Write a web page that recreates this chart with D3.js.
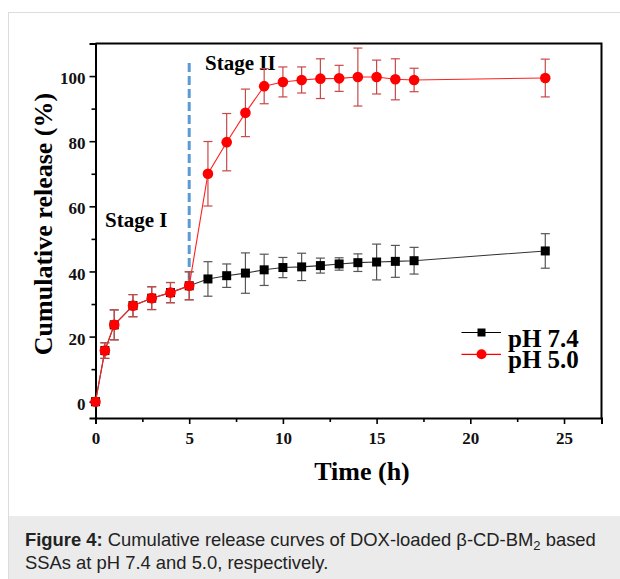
<!DOCTYPE html>
<html><head><meta charset="utf-8">
<script src="https://cdn.jsdelivr.net/npm/d3@7"></script>
<style>
html,body{margin:0;padding:0;background:#fff;}
svg{display:block;}
</style></head>
<body>
<svg id="chart" width="620" height="579"></svg>
<script>
// ---- data ----
const times = [0, 0.5, 1, 2, 3, 4, 5, 6, 7, 8, 9, 10, 11, 12, 13, 14, 15, 16, 17, 24];
const ph74 = [0, 15.7, 23.6, 29.5, 31.8, 33.5, 35.6, 37.7, 38.7, 39.5, 40.5, 41.2, 41.4, 41.8, 42.3, 42.7, 42.9, 43.1, 43.3, 46.3];
const ph74Err = [0, 2.4, 4.6, 3.4, 3.5, 3.1, 4.3, 5.3, 3.6, 6.2, 4.8, 3.1, 4.2, 2.3, 1.9, 2.7, 5.5, 4.9, 4.1, 5.3];
const ph50 = [0, 15.7, 23.6, 29.5, 31.8, 33.5, 35.6, 70.0, 79.7, 88.7, 96.9, 98.2, 98.8, 99.2, 99.3, 99.7, 99.7, 99.0, 98.8, 99.4];
const ph50Err = [0, 2.4, 4.6, 3.4, 3.5, 3.1, 4.3, 9.9, 8.8, 7.3, 5.4, 4.6, 4.0, 6.1, 4.0, 8.9, 5.2, 6.3, 3.6, 5.8];
const xTicks = [0, 5, 10, 15, 20, 25];
const yTicks = [0, 20, 40, 60, 80, 100];
const seriesNames = ["pH 7.4", "pH 5.0"];
const stageLine = {x: 5, y0: 36.5, y1: 104};

const svg = d3.select("#chart");
const serif = "'Liberation Serif','Times New Roman',serif";

// card + caption
svg.append("rect").attr("x", 8.5).attr("y", 12.5).attr("width", 620).attr("height", 580)
  .attr("fill", "#fff").attr("stroke", "#dcdcdc").attr("stroke-width", 1);
svg.append("rect").attr("x", 9).attr("y", 516).attr("width", 611).attr("height", 63).attr("fill", "#ebebeb");

const x = d3.scaleLinear().domain([0, 27]).range([95.5, 601.5]);
const y = d3.scaleLinear().domain([-5, 110]).range([418, 43.5]);

// axes
const xAxis = d3.axisBottom(x).tickValues(d3.range(0, 27, 2.5)).tickSize(6)
  .tickFormat(d => xTicks.includes(d) ? d : "");
const gx = svg.append("g").attr("transform", `translate(0,${y(-5)})`).call(xAxis);
gx.selectAll(".tick line").attr("stroke-width", 1.6).attr("y2", d => xTicks.includes(d) ? 6 : 4);
gx.selectAll(".tick text").attr("font-family", serif).attr("font-weight", "bold")
  .attr("font-size", 17).attr("y", 14).attr("fill", "#111");

const yAxis = d3.axisLeft(y).tickValues(d3.range(0, 110, 10)).tickSize(6)
  .tickFormat(d => yTicks.includes(d) ? d : "");
const gy = svg.append("g").attr("transform", `translate(${x(0)},0)`).call(yAxis);
gy.selectAll(".tick line").attr("stroke-width", 1.6).attr("x2", d => yTicks.includes(d) ? -6 : -4);
gy.selectAll(".tick text").attr("font-family", serif).attr("font-weight", "bold")
  .attr("font-size", 17).attr("x", -10).attr("dy", "0.45em").attr("fill", "#111");
[gx, gy].forEach(g => g.select(".domain").attr("stroke-width", 2).attr("stroke", "#000"));

// top and right frame
svg.append("path")
  .attr("d", `M${x(0)},${y(110)}H${x(27)}V${y(-5)}`)
  .attr("fill", "none").attr("stroke", "#000").attr("stroke-width", 2);

// axis titles
svg.append("text").attr("x", 362).attr("y", 480).attr("text-anchor", "middle")
  .attr("font-family", serif).attr("font-weight", "bold").attr("font-size", 26)
  .text("Time (h)");
svg.append("text").attr("transform", "translate(52,224) rotate(-90)").attr("text-anchor", "middle")
  .attr("font-family", serif).attr("font-weight", "bold").attr("font-size", 26)
  .text("Cumulative release (%)");

// stage dashed line
svg.append("line").attr("x1", x(stageLine.x)).attr("x2", x(stageLine.x))
  .attr("y1", y(stageLine.y1)).attr("y2", y(stageLine.y0))
  .attr("stroke", "#5b9bd5").attr("stroke-width", 3).attr("stroke-dasharray", "9,4");

svg.append("text").attr("x", 105).attr("y", 227).attr("font-family", serif)
  .attr("font-weight", "bold").attr("font-size", 21).text("Stage I");
svg.append("text").attr("x", 205).attr("y", 70).attr("font-family", serif)
  .attr("font-weight", "bold").attr("font-size", 21).text("Stage II");

function drawSeries(vals, errs, color, errColor, marker) {
  const pts = times.map((t, i) => ({t, v: vals[i], e: errs[i]}));
  const g = svg.append("g");
  g.append("path").datum(pts)
    .attr("d", d3.line().x(d => x(d.t)).y(d => y(d.v)))
    .attr("fill", "none").attr("stroke", color).attr("stroke-width", 1.1);
  const eb = g.selectAll(".eb").data(pts.filter(d => d.e > 0)).join("g").attr("stroke", errColor).attr("stroke-width", 1.2);
  eb.append("line").attr("x1", d => x(d.t)).attr("x2", d => x(d.t)).attr("y1", d => y(d.v - d.e)).attr("y2", d => y(d.v + d.e));
  eb.append("line").attr("x1", d => x(d.t) - 4.5).attr("x2", d => x(d.t) + 4.5).attr("y1", d => y(d.v + d.e)).attr("y2", d => y(d.v + d.e));
  eb.append("line").attr("x1", d => x(d.t) - 4.5).attr("x2", d => x(d.t) + 4.5).attr("y1", d => y(d.v - d.e)).attr("y2", d => y(d.v - d.e));
  if (marker === "square") {
    g.selectAll(".m").data(pts).join("rect")
      .attr("x", d => x(d.t) - 4.5).attr("y", d => y(d.v) - 4.5).attr("width", 9).attr("height", 9).attr("fill", "#000");
  } else {
    g.selectAll(".m").data(pts).join("circle")
      .attr("cx", d => x(d.t)).attr("cy", d => y(d.v)).attr("r", 5.3).attr("fill", "#ff0000");
  }
}
drawSeries(ph74, ph74Err, "#333", "#555", "square");
drawSeries(ph50, ph50Err, "#ff2020", "#c84848", "circle");

// legend
const leg = svg.append("g");
[[0, "#000", "square"], [1, "#ff0000", "circle"]].forEach(([i, c, m]) => {
  const ly = 332.5 + i * 21.8;
  leg.append("line").attr("x1", 461.5).attr("x2", 501).attr("y1", ly).attr("y2", ly).attr("stroke", c).attr("stroke-width", 1.2);
  if (m === "square") leg.append("rect").attr("x", 477.5).attr("y", ly - 4).attr("width", 8).attr("height", 8).attr("fill", c);
  else leg.append("circle").attr("cx", 481.5).attr("cy", ly).attr("r", 5).attr("fill", c);
  leg.append("text").attr("x", 508).attr("y", ly + 14).attr("font-family", serif).attr("font-weight", "bold")
    .attr("font-size", 25).text(seriesNames[i]);
});

// caption
const cap = svg.append("text").attr("font-family", "'Liberation Sans',Arial,sans-serif").attr("font-size", 18.4).attr("fill", "#222");
const l1 = cap.append("tspan").attr("x", 25).attr("y", 546);
l1.append("tspan").attr("font-weight", "bold").text("Figure 4:");
l1.append("tspan").text(" Cumulative release curves of DOX-loaded β-CD-BM");
l1.append("tspan").attr("font-size", 13).attr("dy", 4).text("2");
l1.append("tspan").attr("dy", -4).text(" based");
cap.append("tspan").attr("x", 25).attr("y", 569).text("SSAs at pH 7.4 and 5.0, respectively.");
</script>
</body></html>
